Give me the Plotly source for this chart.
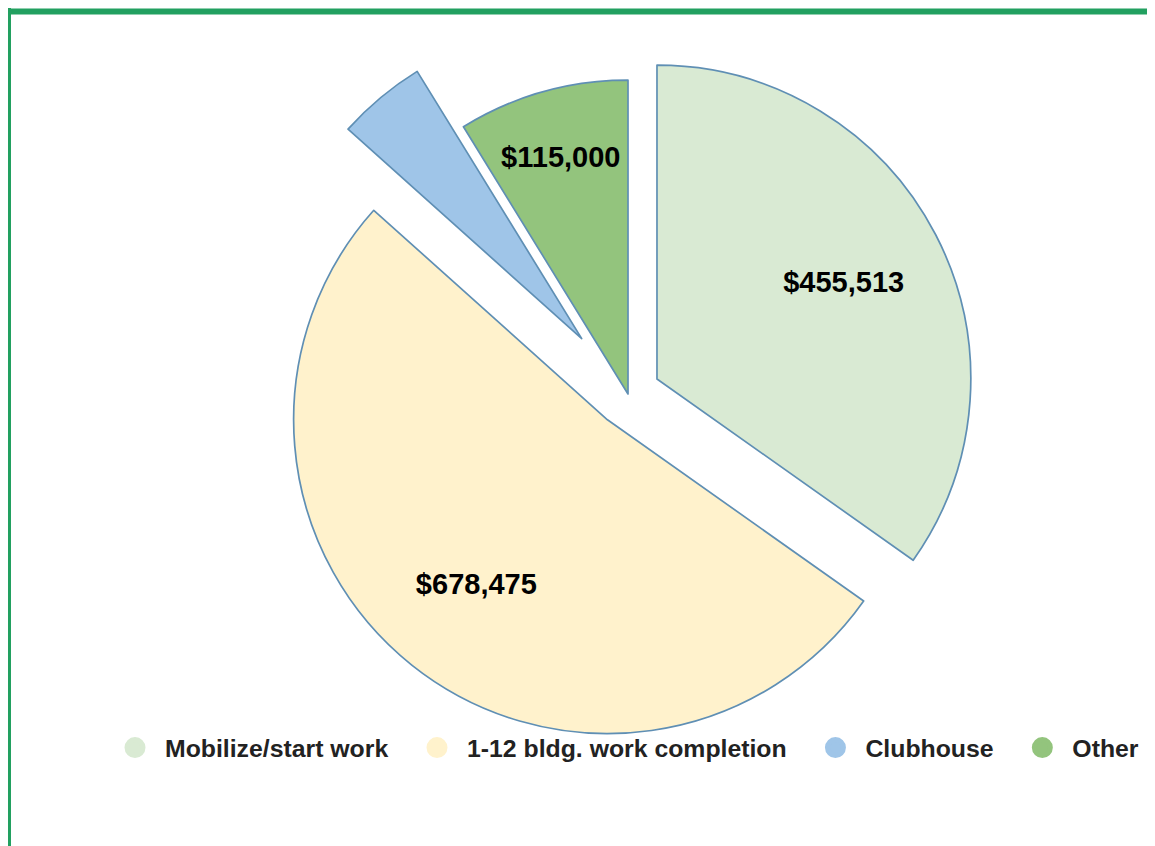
import plotly.graph_objects as go

# ---- data ----
categories = ["Mobilize/start work", "1-12 bldg. work completion", "Clubhouse", "Other"]
values = [455513, 678475, 60000, 115000]
show_label = [True, True, False, True]
colors = ["#d9ead3", "#fff2cc", "#9fc5e8", "#93c47d"]
pulls = [0.104, 0.105, 0.23, 0.0]

W, H = 1147, 838
FONT = "Arial, Liberation Sans, sans-serif"

# pie box (figure pixels): centre (620, 386), box 772 px
dom_x = [(620 - 386) / W, (620 + 386) / W]
dom_y = [1 - 772 / H, 1.0]

fig = go.Figure()

# filled slices
fig.add_trace(go.Pie(
    labels=categories, values=values, sort=False, direction="clockwise", rotation=0,
    pull=pulls, domain=dict(x=dom_x, y=dom_y),
    marker=dict(colors=colors, line=dict(color="#5f8fb4", width=1.7)),
    textinfo="none", showlegend=False, hoverinfo="label+value+percent",
))

# value labels (transparent overlay with a hole to push labels outward)
fig.add_trace(go.Pie(
    labels=categories, values=values, sort=False, direction="clockwise", rotation=0,
    pull=pulls, domain=dict(x=dom_x, y=dom_y), hole=0.34,
    marker=dict(colors=["rgba(0,0,0,0)"] * 4, line=dict(width=0)),
    texttemplate=["%{value:$,}" if s else "" for s in show_label],
    textposition="inside", insidetextorientation="horizontal",
    textfont=dict(family=FONT, size=29, color="#000000", weight="bold"),
    showlegend=False, hoverinfo="skip",
))

# legend entries with circle symbols
pad = "\u00a0\u00a0"
for i, (name, c) in enumerate(zip(categories, colors)):
    fig.add_trace(go.Scatter(
        x=[None], y=[None], mode="markers",
        name=name + (pad if i < len(categories) - 1 else ""),
        marker=dict(symbol="circle", size=16, color=c, line=dict(color=c, width=5)),
        hoverinfo="skip",
    ))

fig.update_layout(
    width=W, height=H,
    margin=dict(l=0, r=0, t=0, b=0),
    paper_bgcolor="white", plot_bgcolor="white",
    xaxis=dict(visible=False), yaxis=dict(visible=False),
    showlegend=True,
    legend=dict(
        orientation="h", x=616.5 / W, xanchor="center", y=1 - 740 / H, yanchor="middle",
        font=dict(family=FONT, size=24.8, color="#222222", weight="bold"),
        itemwidth=50, bgcolor="rgba(0,0,0,0)",
    ),
    shapes=[
        dict(type="rect", xref="paper", yref="paper",
             x0=0.0, x1=1.0, y0=1 - 6.5 / H, y1=1 - 0.5 / H,
             fillcolor="#22a060", line=dict(width=0), layer="above"),
        dict(type="rect", xref="paper", yref="paper",
             x0=0.0, x1=3 / W, y0=0.0, y1=1.0,
             fillcolor="#22a060", line=dict(width=0), layer="above"),
    ],
)

fig.write_html("out.html")
